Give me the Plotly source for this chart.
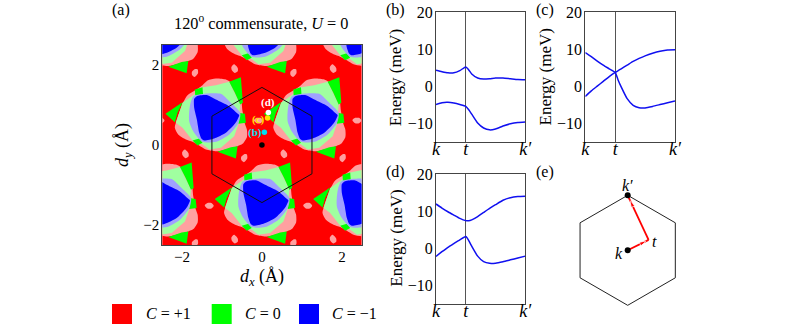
import plotly.graph_objects as go

W, H = 797, 324
FONT = "Liberation Serif"
RED, GREEN, BLUE = "#ff0000", "#00ff00", "#0000ff"
PINK, LGREEN, LBLUE = "#ffa0a0", "#a0ffa0", "#a0a0ff"

lattice_a1 = (2.46, 0.0)
lattice_a2 = (1.23, 2.13)
lattice_origin = (0.02, -1.41)
pink_blob = [(-90,43),(-78,63),(-56,77),(-33,93),(-18,107),(7,113),(37,110),(50,103),(80,65),(87,15),(94,-23),(100,-40),(100,-63),(87,-83),(72,-90),(12,-105),(-23,-100),(-43,-88),(-63,-77),(-83,-70),(-106,-55),(-116,-35),(-113,-20)]
lgreen_blob = [(-33,87),(7,93),(47,103),(64,70),(80,35),(75,-23),(62,-60),(22,-95),(-13,-100),(-33,-85),(-63,-73),(-93,-35),(-113,-20),(-93,40),(-58,65)]
green_top = [(47,103),(82,117),(88,40),(80,35),(64,70)]
green_left = [(-93,42),(-144,7),(-116,-18),(-108,10)]
green_bottom = [(12,-107),(67,-127),(72,-90),(52,-93)]
green_nw = [(-56,80),(-33,87),(-31,60),(-55,62)]
green_e = [(75,10),(94,7),(97,-20),(75,-23)]
green_sw = [(-63,-73),(-43,-67),(-33,-80),(-48,-88)]
lblue_blob = [(-60,60),(-18,68),(22,67),(47,45),(80,10),(75,-20),(47,-55),(7,-77),(-33,-77),(-58,-50),(-73,-15),(-71,30)]
blue_blob = [(-58,52),(-50,60),(-18,63),(7,50),(47,30),(72,8),(77,3),(72,-10),(64,-23),(37,-50),(2,-67),(-28,-73),(-36,-68),(-43,-50),(-50,-10),(-58,25)]
spot_1 = [(-174,-12),(-166,-5),(-154,-5),(-147,-13),(-154,-21),(-166,-21)]
spot_2 = [(83,-131),(91,-138),(101,-127),(100,-115),(92,-114),(83,-122)]
spot_3 = [(-94,-108),(-86,-100),(-75,-111),(-75,-121),(-84,-126),(-93,-117)]
map_edge = [-2.6, 2.6]

hexagon_a_x = [0, 1.25, 1.25, 0, -1.25, -1.25, 0]
hexagon_a_y = [1.44, 0.72, -0.72, -1.44, -0.72, 0.72, 1.44]
point_labels = ["(b)", "(c)", "(d)"]
point_x = [0.06, 0.14, 0.16]
point_y = [0.32, 0.675, 0.81]
point_colors = ["#00e0f0", "#ffe000", "#ffffff"]

# ---- band structures
path_s = [0, .2, .4, .6, .8, 1, 1.1, 1.2, 1.4, 1.6, 1.8, 2, 2.25, 2.5, 2.75, 3]
b_upper = [4.3, 3.9, 3.6, 3.6, 4.2, 5.2, 4.4, 3.3, 2.2, 1.9, 2.0, 2.2, 2.2, 2.0, 1.8, 1.75]
b_lower = [-5.0, -4.5, -4.4, -4.6, -5.0, -5.5, -6.4, -7.6, -10.0, -11.35, -11.85, -11.6, -10.8, -10.2, -9.85, -9.7]
c_upper = [9.1, 8.0, 6.8, 5.7, 4.7, 3.7, 1.6, -0.2, -3.4, -5.2, -5.85, -5.9, -5.5, -5.0, -4.5, -4.0]
c_lower = [-2.8, -1.3, 0, 1.3, 2.6, 3.7, 4.2, 4.7, 5.7, 6.7, 7.5, 8.2, 8.9, 9.45, 9.8, 9.85]
d_upper = [11.9, 10.8, 9.8, 8.9, 8.0, 7.4, 7.35, 7.6, 8.5, 9.6, 10.7, 11.7, 12.9, 13.6, 13.9, 14.0]
d_lower = [-2.3, -1.0, 0.2, 1.2, 2.2, 3.1, 2.0, 0.5, -2.2, -3.7, -4.15, -4.1, -3.7, -3.2, -2.7, -2.2]
energy_ticks = [-10, 0, 10, 20]
energy_labels = ["\u221210", "0", "10", "20"]
path_ticks = [0, 1, 3]
path_labels = ["<i>k</i>", "<i>t</i>", "<i>k\u2032</i>"]

# ---- panel (e)
hex_e_x = [0, .866, .866, 0, -.866, -.866, 0]
hex_e_y = [1, .5, -.5, -1, -.5, .5, 1]
k_pt = (0, 0)
t_pt = (0.38, 0.19)
kp_pt = (0, 1)
arrow_head_at = 0.88

# ---- legend
legend_names = ["<i>C</i> = +1", "<i>C</i> = 0", "<i>C</i> = \u22121"]
legend_colors = [RED, GREEN, BLUE]


def px(x):
    return x / W


def py(y):
    return 1 - y / H


def tile(poly):
    xs, ys = [], []
    for n in range(-4, 5):
        for m in range(-3, 4):
            ox = lattice_origin[0] + n * lattice_a1[0] + m * lattice_a2[0]
            oy = lattice_origin[1] + n * lattice_a1[1] + m * lattice_a2[1]
            xs += [ox + p[0] / 120 for p in poly] + [poly[0][0] / 120 + ox, None]
            ys += [oy + p[1] / 120 for p in poly] + [poly[0][1] / 120 + oy, None]
    return xs, ys


fig = go.Figure()


def fill_layer(xs, ys, color, smooth=False):
    line = dict(width=0, color=color)
    if smooth:
        line.update(shape="spline", smoothing=0.7)
    fig.add_trace(go.Scatter(x=xs, y=ys, mode="lines", fill="toself", fillcolor=color,
                             line=line, hoverinfo="skip",
                             showlegend=False, xaxis="x", yaxis="y"))


fill_layer([map_edge[0], map_edge[1], map_edge[1], map_edge[0], map_edge[0]],
           [map_edge[0], map_edge[0], map_edge[1], map_edge[1], map_edge[0]], RED)
for poly, col, smooth in [(pink_blob, PINK, True), (spot_1, PINK, True), (spot_2, PINK, True), (spot_3, PINK, True),
                          (lgreen_blob, LGREEN, False), (green_top, GREEN, False), (green_left, GREEN, False),
                          (green_bottom, GREEN, False), (green_nw, GREEN, False), (green_e, GREEN, False),
                          (green_sw, GREEN, False), (lblue_blob, LBLUE, True), (blue_blob, BLUE, True)]:
    xs, ys = tile(poly)
    fill_layer(xs, ys, col, smooth)

fig.add_trace(go.Scatter(x=hexagon_a_x, y=hexagon_a_y, mode="lines",
                         line=dict(color="#111111", width=1), showlegend=False))
fig.add_trace(go.Scatter(x=[0] + point_x, y=[0] + point_y, mode="markers",
                         marker=dict(size=5.5, color=["#000000"] + point_colors),
                         showlegend=False))

for i, (up, lo) in enumerate([(b_upper, b_lower), (c_upper, c_lower), (d_upper, d_lower)]):
    n = i + 2
    for band in (up, lo):
        fig.add_trace(go.Scatter(x=path_s, y=band, mode="lines", xaxis=f"x{n}", yaxis=f"y{n}",
                                 line=dict(color="#1010f0", width=1.5, shape="spline", smoothing=0.5),
                                 showlegend=False))

fig.add_trace(go.Scatter(x=hex_e_x, y=hex_e_y, mode="lines", xaxis="x5", yaxis="y5",
                         line=dict(color="#222222", width=1), showlegend=False))
for start, end in [(k_pt, t_pt), (t_pt, kp_pt)]:
    hx = start[0] + arrow_head_at * (end[0] - start[0])
    hy = start[1] + arrow_head_at * (end[1] - start[1])
    fig.add_trace(go.Scatter(x=[start[0], hx, end[0]], y=[start[1], hy, end[1]], mode="lines+markers",
                             xaxis="x5", yaxis="y5", line=dict(color="#ff0000", width=1.8),
                             marker=dict(symbol="arrow", angleref="previous", size=[0, 7, 0], color="#ff0000"),
                             showlegend=False))
fig.add_trace(go.Scatter(x=[k_pt[0], kp_pt[0]], y=[k_pt[1], kp_pt[1]], mode="markers",
                         xaxis="x5", yaxis="y5", marker=dict(size=6, color="black"), showlegend=False))

axis_common = dict(showline=True, mirror=True, linecolor="#444444", linewidth=1,
                   showgrid=False, zeroline=False, ticks="")


def set_axes(n, x0, x1, y0, y1, xr, yr, xkw, ykw):
    xa = dict(axis_common, domain=[px(x0), px(x1)], range=xr, anchor=f"y{n}" if n > 1 else "y", **xkw)
    ya = dict(axis_common, domain=[py(y1), py(y0)], range=yr, anchor=f"x{n}" if n > 1 else "x", **ykw)
    fig.update_layout(**{("xaxis" if n == 1 else f"xaxis{n}"): xa,
                         ("yaxis" if n == 1 else f"yaxis{n}"): ya})


tick_a = dict(tickvals=[-2, 0, 2], ticktext=["\u22122", "0", "2"],
              tickfont=dict(family=FONT, size=15, color="black"))
set_axes(1, 162.3, 361.6, 45, 245, [-2.49, 2.49], [-2.5, 2.5],
         dict(tick_a, ticklabelstandoff=-2), dict(tick_a, ticklabelstandoff=-1))
xk = dict(tickvals=path_ticks, ticktext=path_labels, showgrid=True, gridcolor="#555555", gridwidth=1,
          ticklabelstandoff=-9, tickfont=dict(family=FONT, size=18, color="black"))
yk = dict(tickvals=energy_ticks, ticktext=energy_labels, ticklabelstandoff=-1,
          tickfont=dict(family=FONT, size=16, color="black"))
set_axes(2, 436, 525.3, 12.3, 141.5, [0, 3], [-15, 20], xk, yk)
set_axes(3, 585.3, 675, 12.3, 141.5, [0, 3], [-15, 20], xk, yk)
set_axes(4, 436, 525.3, 174, 303.5, [0, 3], [-15, 20], xk, yk)
set_axes(5, 570, 690, 185, 315, [-1.049, 1.133], [-1.176, 1.187],
         dict(visible=False), dict(visible=False))

ann = []


def text(x, y, s, size=15, color="black", angle=0, anchor="center"):
    ann.append(dict(x=px(x), y=py(y), xref="paper", yref="paper", text=s, showarrow=False,
                    textangle=angle, xanchor=anchor, yanchor="middle",
                    font=dict(family=FONT, size=size, color=color)))


text(121, 10, "(a)", 16)
text(395.7, 10, "(b)", 16)
text(545, 10, "(c)", 16)
text(395.7, 171.7, "(d)", 16)
text(545, 171.7, "(e)", 16)
text(261, 23, "120<sup>o</sup> commensurate, <i>U</i> = 0", 16.3)
text(123, 145, "<i>d<sub>y</sub></i> (\u00c5)", 18, angle=-90)
text(261.7, 277, "<i>d<sub>x</sub></i> (\u00c5)", 18)
text(395.7, 77.5, "Energy (meV)", 17, angle=-90)
text(545, 77.5, "Energy (meV)", 17, angle=-90)
text(395.7, 238, "Energy (meV)", 17, angle=-90)
for lab, col, x, y in zip(point_labels, point_colors, [255.3, 258, 267.7], [132.7, 119, 102]):
    text(x, y, f"<b>{lab}</b>", 11, col)
text(627.3, 185, "<i>k\u2032</i>", 16)
text(654, 241, "<i>t</i>", 16)
text(619, 253, "<i>k</i>", 16)
for name, x in zip(legend_names, [143.7, 243, 330]):
    text(x, 313.5, name, 16, anchor="left")

shapes = []
for col, x0 in zip(legend_colors, [112, 211.7, 299]):
    shapes.append(dict(type="rect", xref="paper", yref="paper", x0=px(x0), x1=px(x0 + 20),
                       y0=py(324), y1=py(304), fillcolor=col, line=dict(width=0)))

fig.update_layout(width=W, height=H, margin=dict(l=0, r=0, t=0, b=0, autoexpand=False), autosize=False,
                  paper_bgcolor="white", plot_bgcolor="white", showlegend=False,
                  annotations=ann, shapes=shapes, font=dict(family=FONT, color="black"))
fig.write_html("out.html", config=dict(displayModeBar=False),
               post_script="document.body.style.margin='0';document.documentElement.style.overflow='hidden';")
